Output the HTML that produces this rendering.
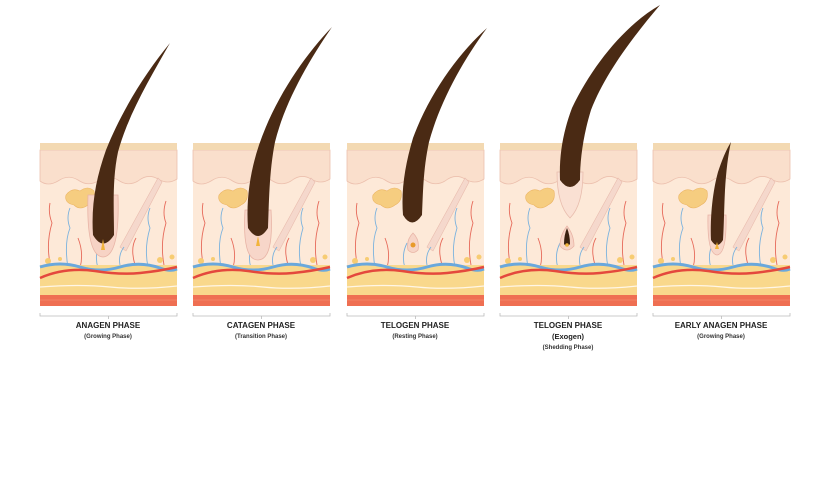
<!DOCTYPE html>
<html><head><meta charset="utf-8"><style>
body{margin:0;background:#fff;width:825px;height:495px;overflow:hidden}
svg{display:block}
text{font-family:"Liberation Sans",Arial,sans-serif;fill:#222;text-anchor:middle}
.t{font-size:8px;font-weight:bold}
.s{font-size:6px;font-weight:bold;fill:#333}
</style></head><body>
<svg width="825" height="495" viewBox="0 0 825 495" xmlns="http://www.w3.org/2000/svg">
<defs>
<g id="bg">
<rect x="0" y="0" width="137" height="163" fill="#fde9d8"/>
<path d="M0,7 H137 V36 Q128,42 118,36 Q108,30 98,38 Q88,44 78,37 Q68,31 58,38 Q48,44 38,37 Q28,31 18,38 Q8,44 0,38 Z" fill="#fadfcc" stroke="#ecc0ae" stroke-width="0.8"/>
<rect x="0" y="0" width="137" height="7" fill="#f3d9b2"/>
<path d="M26,52 Q32,44 40,48 Q48,42 54,48 Q56,58 48,62 Q40,68 34,62 Q24,60 26,52 Z" fill="#f6cd80" stroke="#ebb462" stroke-width="0.6"/>
<path d="M118,35 L122,39 L86,108 L80,104 Z" fill="#f5d8cc" stroke="#e9bcae" stroke-width="0.6"/>
<g fill="none" stroke-width="0.9">
<path d="M10,120 Q6,100 12,80 Q8,70 10,60" stroke="#e66a5a"/>
<path d="M28,125 Q24,100 30,85 Q26,75 30,65" stroke="#7ab2de"/>
<path d="M40,125 Q44,110 38,95" stroke="#e66a5a"/>
<path d="M58,125 Q54,112 60,100" stroke="#7ab2de"/>
<path d="M95,122 Q90,105 96,95" stroke="#e66a5a"/>
<path d="M108,124 Q104,105 110,85 Q106,75 110,65" stroke="#7ab2de"/>
<path d="M124,122 Q120,100 126,80 Q122,70 126,58" stroke="#e66a5a"/>
<path d="M80,122 Q78,112 84,104" stroke="#7ab2de"/>
</g>
<rect x="0" y="122" width="137" height="30" fill="#f9d88c"/>
<circle cx="8" cy="118" r="3" fill="#f7cc72"/><circle cx="20" cy="116" r="2" fill="#f7cc72"/><circle cx="120" cy="117" r="3" fill="#f7cc72"/><circle cx="132" cy="114" r="2.5" fill="#f7cc72"/>
<path d="M0,124 Q20,118 40,124 Q60,130 80,124 Q100,118 120,125 Q130,129 137,126" stroke="#6aa8dc" stroke-width="3" fill="none"/>
<path d="M0,135 Q25,124 55,128 Q80,132 100,130 Q120,128 137,124" stroke="#e4483d" stroke-width="2.5" fill="none"/>
<path d="M0,144 Q40,141 70,144 Q100,147 137,143" stroke="#fff6e6" stroke-width="1.2" fill="none"/>
<rect x="0" y="152" width="137" height="11" fill="#ef6f52"/>
<path d="M0,157 H137" stroke="#f48a6c" stroke-width="0.8"/>
<path d="M0,170 V173 H137 V170 M68.5,173 V176" stroke="#bbb" stroke-width="0.8" fill="none"/>
</g>
</defs>
<use href="#bg" x="40" y="143"/>
<use href="#bg" x="193" y="143"/>
<use href="#bg" x="347" y="143"/>
<use href="#bg" x="500" y="143"/>
<use href="#bg" x="653" y="143"/>

<!-- panel 1 anagen -->
<path d="M88,195 Q86,256 103,257 Q120,256 118,195 Z" fill="#f7d3c5" stroke="#e8b4a6" stroke-width="0.8"/>
<path d="M93,235 C91,205 96,178 106,150 C122,110 146,72 170,43 C150,78 128,115 118,152 C112,180 114,210 114,235 Q103,252 93,235 Z" fill="#4a2a14"/>
<path d="M101,250 L103,239 L105,250 Z" fill="#f2b43c"/>
<!-- panel 2 catagen -->
<path d="M245,210 Q242,260 258,260 Q274,260 271,210 Z" fill="#f7d6c9" stroke="#e8b4a6" stroke-width="0.8"/>
<path d="M248,228 C246,200 250,172 259,145 C275,98 305,55 332,27 C308,62 285,102 275,142 C269,172 269,205 268,228 Q258,244 248,228 Z" fill="#4a2a14"/>
<path d="M256,246 L258,236 L260,246 Z" fill="#f2b43c"/>
<!-- panel 3 telogen -->
<path d="M403,215 C401,190 405,165 413,138 C430,92 460,52 487,28 C462,62 440,102 429,142 C423,170 423,195 422,215 Q412,230 403,215 Z" fill="#4a2a14"/>
<path d="M408,250 Q406,240 413,233 Q420,240 418,250 Q413,255 408,250 Z" fill="#f7d4c6" stroke="#e8b4a6" stroke-width="0.8"/>
<circle cx="413" cy="245" r="2.5" fill="#e89a2a"/>
<!-- panel 4 exogen -->
<path d="M557,172 Q557,205 570,218 Q583,205 583,172 Z" fill="#fae0d3" stroke="#e8bcad" stroke-width="0.8"/>
<path d="M560,180 C559,155 563,132 572,108 C592,66 625,25 660,5 C632,38 605,74 591,110 C583,136 580,160 580,180 Q570,194 560,180 Z" fill="#4a2a14"/>
<path d="M560,246 Q560,235 567,226 Q574,235 574,246 Q567,254 560,246 Z" fill="#f7d4c6" stroke="#e8b4a6" stroke-width="0.8"/>
<path d="M564,244 Q564,235 567,228 Q570,235 570,244 Q567,248 564,244 Z" fill="#3a2010"/>
<circle cx="567" cy="245" r="1.8" fill="#f2b43c"/>
<!-- panel 5 early anagen -->
<path d="M708,215 Q707,254 717,255 Q727,254 726,215 Z" fill="#f7d6c9" stroke="#e8b4a6" stroke-width="0.8"/>
<path d="M711,240 C710,215 713,190 718,172 C722,160 726,150 731,142 C728,155 726,172 725,190 C724,210 724,225 723,240 Q717,250 711,240 Z" fill="#4a2a14"/>
<path d="M715,249 L717,242 L719,249 Z" fill="#f2b43c"/>

<text class="t" x="108" y="328">ANAGEN PHASE</text>
<text class="s" x="108" y="338">(Growing Phase)</text>
<text class="t" x="261" y="328">CATAGEN PHASE</text>
<text class="s" x="261" y="338">(Transition Phase)</text>
<text class="t" x="415" y="328">TELOGEN PHASE</text>
<text class="s" x="415" y="338">(Resting Phase)</text>
<text class="t" x="568" y="328">TELOGEN PHASE</text>
<text class="t" x="568" y="339" style="font-size:7.5px">(Exogen)</text>
<text class="s" x="568" y="349">(Shedding Phase)</text>
<text class="t" x="721" y="328">EARLY ANAGEN PHASE</text>
<text class="s" x="721" y="338">(Growing Phase)</text>
</svg>
</body></html>
